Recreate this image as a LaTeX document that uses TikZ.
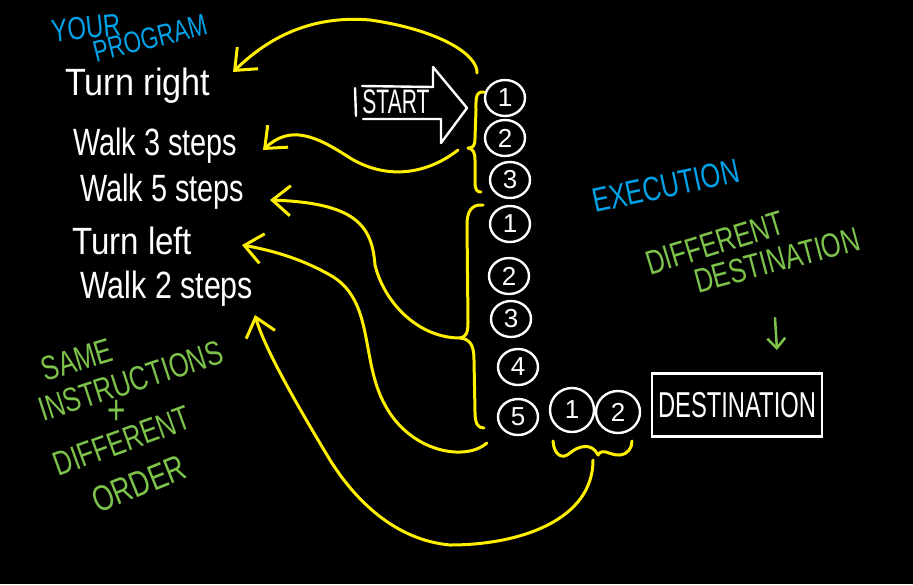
\documentclass[tikz,border=0pt]{standalone}
\usepackage{fontspec}
\setmainfont{Liberation Sans}
\usetikzlibrary{shapes.geometric,arrows.meta}
\definecolor{hwyellow}{RGB}{255,240,0}
\definecolor{hwblue}{RGB}{0,162,232}
\definecolor{hwgreen}{RGB}{125,195,75}
\begin{document}
\begin{tikzpicture}[x=1pt,y=-1pt,
  every node/.style={inner sep=0pt},
  lbl/.style={text=white, font=\fontsize{38}{40}\selectfont, anchor=base west},
  caps/.style={font=\fontsize{34}{36}\selectfont, xscale=0.75},
  bluetxt/.style={caps, text=hwblue},
  greentxt/.style={caps, text=hwgreen},
  num/.style={draw=white, line width=2.4pt, ellipse, minimum width=40pt, minimum height=36pt, text=white, font=\fontsize{26}{28}\selectfont},
  flow/.style={draw=hwyellow, line width=3pt, line cap=round, line join=round, -{Straight Barb[length=18pt,width=30pt]}},
  brace/.style={draw=hwyellow, line width=3pt, line cap=round, line join=round},
  wline/.style={draw=white, line width=2.4pt, line cap=round, line join=round}
]
\fill[black] (0,0) rectangle (913,584);
\useasboundingbox (0,0) rectangle (913,584);

% program title
\node[rotate=6, bluetxt, font=\fontsize{32}{34}\selectfont] (your) at (86,28) {YOUR};
\node[rotate=14, bluetxt, font=\fontsize{30}{32}\selectfont] (prog) at (150,38) {PROGRAM};

% program lines
\node[lbl, xscale=0.9] (tr) at (65,95) {Turn right};
\node[lbl, xscale=0.76] (w3) at (73,155) {Walk 3 steps};
\node[lbl, xscale=0.76] (w5) at (80,201) {Walk 5 steps};
\node[lbl, xscale=0.87] (tl) at (72,254) {Turn left};
\node[lbl, xscale=0.8] (w2) at (80,298) {Walk 2 steps};

% execution numbers
\node[num] (c1) at (505,98) {1};
\node[num] (c2) at (505,138) {2};
\node[num] (c3) at (510,180) {3};
\node[num] (d1) at (510,224) {1};
\node[num] (d2) at (509,276) {2};
\node[num] (d3) at (511,319) {3};
\node[num] (d4) at (518,367) {4};
\node[num] (d5) at (518,417) {5};
\node[num, minimum width=44pt, minimum height=44pt] (e1) at (572,410) {1};
\node[num, minimum width=44pt, minimum height=42pt] (e2) at (618,412) {2};

% destination box
\node[draw=white, line width=2.4pt, xscale=0.66, minimum width=258pt, minimum height=63pt, text=white, font=\fontsize{36}{38}\selectfont] (dest) at (737,405) {DESTINATION};

% start arrow
\node[text=white, xscale=0.62, font=\fontsize{34}{36}\selectfont] (start) at (396,102) {START};
\draw[wline] (362,86) -- (433,87) -- (433,67) -- (467,108) -- (441,143) -- (441,119) -- (363,119);
\draw[wline] (355,88) -- (356,116);

% braces
\draw[brace] (484,92) .. controls (475,91) and (476,100) .. (476,110) -- (475,138) .. controls (475,146) and (473,148) .. (468,148) .. controls (473,149) and (475,152) .. (475,160) -- (475,182) .. controls (475,190) and (477,192) .. (481,192);
\draw[brace] (483,205) .. controls (471,204) and (467,212) .. (467,225) -- (468,322) .. controls (468,333) and (466,337) .. (460,338) .. controls (470,339) and (474,345) .. (474,360) -- (475,412) .. controls (475,424) and (478,428) .. (484,428);
\draw[brace] (553,441) .. controls (554,455) and (562,460) .. (570,453) .. controls (578,446) and (592,442) .. (598,455) .. controls (603,447) and (610,456) .. (620,455) .. controls (628,454) and (632,448) .. (632,441);

% connector ends
\coordinate (b1top) at (477,73);
\coordinate (b1mid) at (458,150);
\coordinate (b2mid) at (460,338);
\coordinate (b2bot) at (487,443);
\coordinate (b3mid) at (593,460);
\coordinate (t1) at (233,72);
\coordinate (t2) at (263,150);
\coordinate (t3) at (270,200);
\coordinate (t4) at (242,245);
\coordinate (t5) at (255,315);

% flows
\draw[flow] (b1top) .. controls (478,55) and (440,30) .. (370,20) .. controls (300,14) and (258,48) .. (t1);
\draw[flow] (b1mid) .. controls (430,172) and (390,182) .. (350,158) .. controls (315,135) and (290,125) .. (t2);
\draw[flow] (b2mid) .. controls (420,338) and (385,305) .. (375,265) .. controls (372,225) and (355,203) .. (t3);
\draw[flow] (b2bot) .. controls (465,462) and (410,452) .. (385,405) .. controls (360,360) and (375,300) .. (330,275) .. controls (300,258) and (270,250) .. (t4);
\draw[flow] (b3mid) .. controls (593,520) and (520,545) .. (450,545) .. controls (395,540) and (355,500) .. (330,460) .. controls (300,410) and (265,350) .. (t5);

% right labels
\node[rotate=12, bluetxt] (exec) at (666,186) {EXECUTION};
\node[rotate=17, greentxt] (diff) at (715,243) {DIFFERENT};
\node[rotate=15, greentxt] (destlbl) at (777,260) {DESTINATION};
\coordinate (ga1) at (775,318);
\coordinate (ga2) at (777,350);
\draw[draw=hwgreen, line width=2.5pt, line cap=round, -{Straight Barb[length=10pt,width=18pt]}] (ga1) -- (ga2);

% left labels
\node[rotate=17, greentxt] (same) at (77,360) {SAME};
\node[rotate=18, greentxt] (instr) at (131,381) {INSTRUCTIONS};
\node[greentxt, font=\fontsize{42}{44}\selectfont, xscale=1] (plus) at (117,412) {+};
\node[rotate=20, greentxt] (diff2) at (122,441) {DIFFERENT};
\node[rotate=22, greentxt, font=\fontsize{36}{38}\selectfont] (order) at (139,484) {ORDER};
\end{tikzpicture}
\end{document}
